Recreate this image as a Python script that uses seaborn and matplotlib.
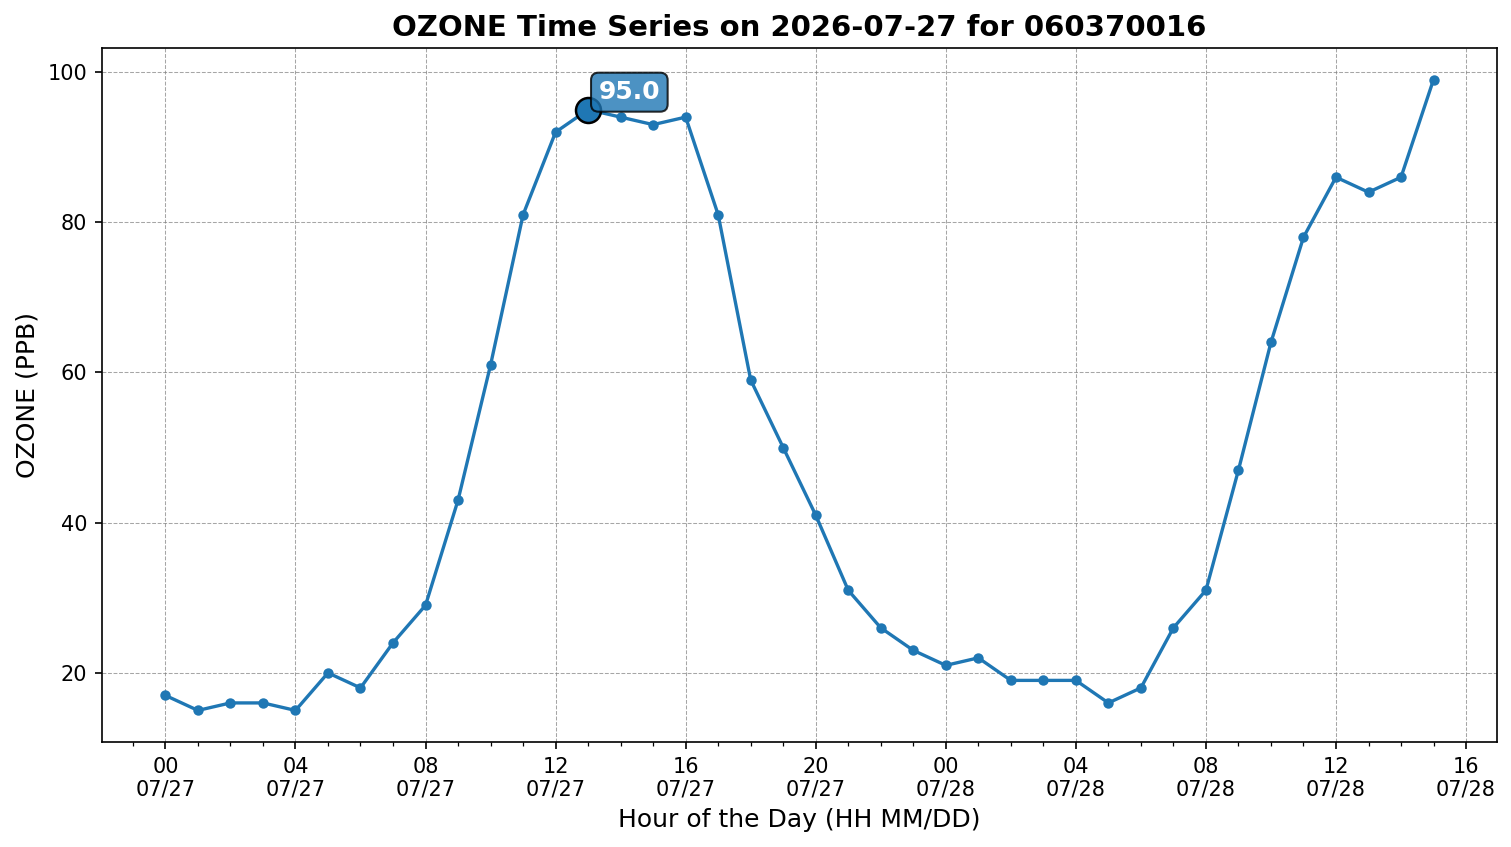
import pandas as pd
import matplotlib
matplotlib.use("Agg")
import matplotlib.pyplot as plt
import matplotlib.dates as mdates
import seaborn as sns

# hourly ozone readings, starting 2026-07-27 00:00
start = "2026-07-27 00:00"
ozone_day1 = [17, 15, 16, 16, 15, 20, 18, 24, 29, 43, 61, 81,
              92, 95, 94, 93, 94, 81, 59, 50, 41, 31, 26, 23]
ozone_day2 = [21, 22, 19, 19, 19, 16, 18, 26, 31, 47, 64, 78,
              86, 84, 86, 99]
highlight_hour = 13

values = ozone_day1 + ozone_day2
times = pd.date_range(start, periods=len(values), freq="h")
df = pd.DataFrame({"time": times, "ozone": values})

fig, ax = plt.subplots(figsize=(1511 / 150, 847 / 150), dpi=150)
fig.subplots_adjust(left=0.0675, right=0.9907, top=0.9433, bottom=0.124)

sns.lineplot(data=df, x="time", y="ozone", ax=ax, color="tab:blue",
             marker="o", markersize=5, markeredgewidth=0, linewidth=1.6)

# highlighted point
hx = df["time"].iloc[highlight_hour]
hy = df["ozone"].iloc[highlight_hour]
ax.plot(hx, hy, "o", markersize=12, color="tab:blue",
        markeredgecolor="black", markeredgewidth=1.2, zorder=5)
ax.annotate(f"{hy:.1f}", xy=(hx, hy), xytext=(5, 5), textcoords="offset points",
            fontsize=12, fontweight="bold", color="white",
            bbox=dict(boxstyle="round,pad=0.3", facecolor="tab:blue",
                      edgecolor="black", alpha=0.8), zorder=6)

ax.xaxis.set_major_locator(mdates.HourLocator(byhour=range(0, 24, 4)))
ax.xaxis.set_minor_locator(mdates.HourLocator())
ax.xaxis.set_major_formatter(mdates.DateFormatter("%H\n%m/%d"))

ax.grid(True, which="major", linestyle="--", linewidth=0.5, color="gray", alpha=0.7)

ax.set_title("OZONE Time Series on 2026-07-27 for 060370016",
             fontsize=14, fontweight="bold")
ax.set_xlabel("Hour of the Day (HH MM/DD)", fontsize=12)
ax.set_ylabel("OZONE (PPB)", fontsize=12)

plt.savefig("out.png", dpi=150)
